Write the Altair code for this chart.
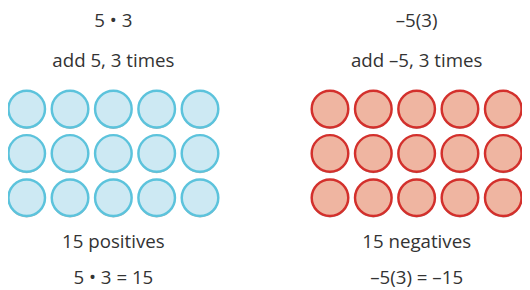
import altair as alt
import pandas as pd

# data
groups = ["positive", "negative"]
group_cols = {"positive": [0, 1, 2, 3, 4], "negative": [7, 8, 9, 10, 11]}
rows = [0, 1, 2]
titles = {"positive": "5 • 3", "negative": "–5(3)"}
subtitles = {"positive": "add 5, 3 times", "negative": "add –5, 3 times"}
counts = {"positive": "15 positives", "negative": "15 negatives"}
equations = {"positive": "5 • 3 = 15", "negative": "–5(3) = –15"}
label_col = {"positive": 2, "negative": 9}

recs = []
for g in groups:
    for r in rows:
        for c in group_cols[g]:
            recs.append({"group": g, "col": c, "row": r})
df = pd.DataFrame(recs)

text_recs = []
for g in groups:
    text_recs.append({"group": g, "col": label_col[g], "kind": "title", "text": titles[g]})
    text_recs.append({"group": g, "col": label_col[g], "kind": "sub", "text": subtitles[g]})
    text_recs.append({"group": g, "col": label_col[g], "kind": "count", "text": counts[g]})
    text_recs.append({"group": g, "col": label_col[g], "kind": "eq", "text": equations[g]})
tdf = pd.DataFrame(text_recs)

xs = alt.Scale(domain=[0, 11], range=[19, 503])
ys = alt.Scale(domain=[0, 2], range=[100.5, 190.5])
X = alt.X("col:Q", scale=xs, axis=None)
Y = alt.Y("row:Q", scale=ys, axis=None)

fill_scale = alt.Scale(domain=groups, range=["#cde9f3", "#efb5a1"])
stroke_scale = alt.Scale(domain=groups, range=["#5cc3dc", "#d3302c"])

shadow = alt.Chart(df).mark_point(
    shape="circle", size=1380, filled=True, color="#7a7a7a", opacity=0.55, yOffset=1.5
).encode(x=X, y=Y)

circles = alt.Chart(df).mark_point(
    shape="circle", size=1380, filled=True, strokeWidth=2.5, opacity=1
).encode(
    x=X, y=Y,
    fill=alt.Fill("group:N", scale=fill_scale, legend=None),
    stroke=alt.Stroke("group:N", scale=stroke_scale, legend=None),
)

def text_layer(kind, ypx):
    return alt.Chart(tdf).transform_filter(alt.datum.kind == kind).mark_text(
        font="Open Sans", fontSize=19, color="#333333", baseline="middle", align="center"
    ).encode(x=X, y=alt.value(ypx), text="text:N")

chart = alt.layer(
    shadow, circles,
    text_layer("title", 11),
    text_layer("sub", 52),
    text_layer("count", 236),
    text_layer("eq", 272),
).properties(
    width=522, height=282,
    autosize=alt.AutoSizeParams(type="none"),
    padding=0,
).configure_view(stroke=None)

chart.save("out.html", embed_options={"renderer": "svg", "actions": False})
